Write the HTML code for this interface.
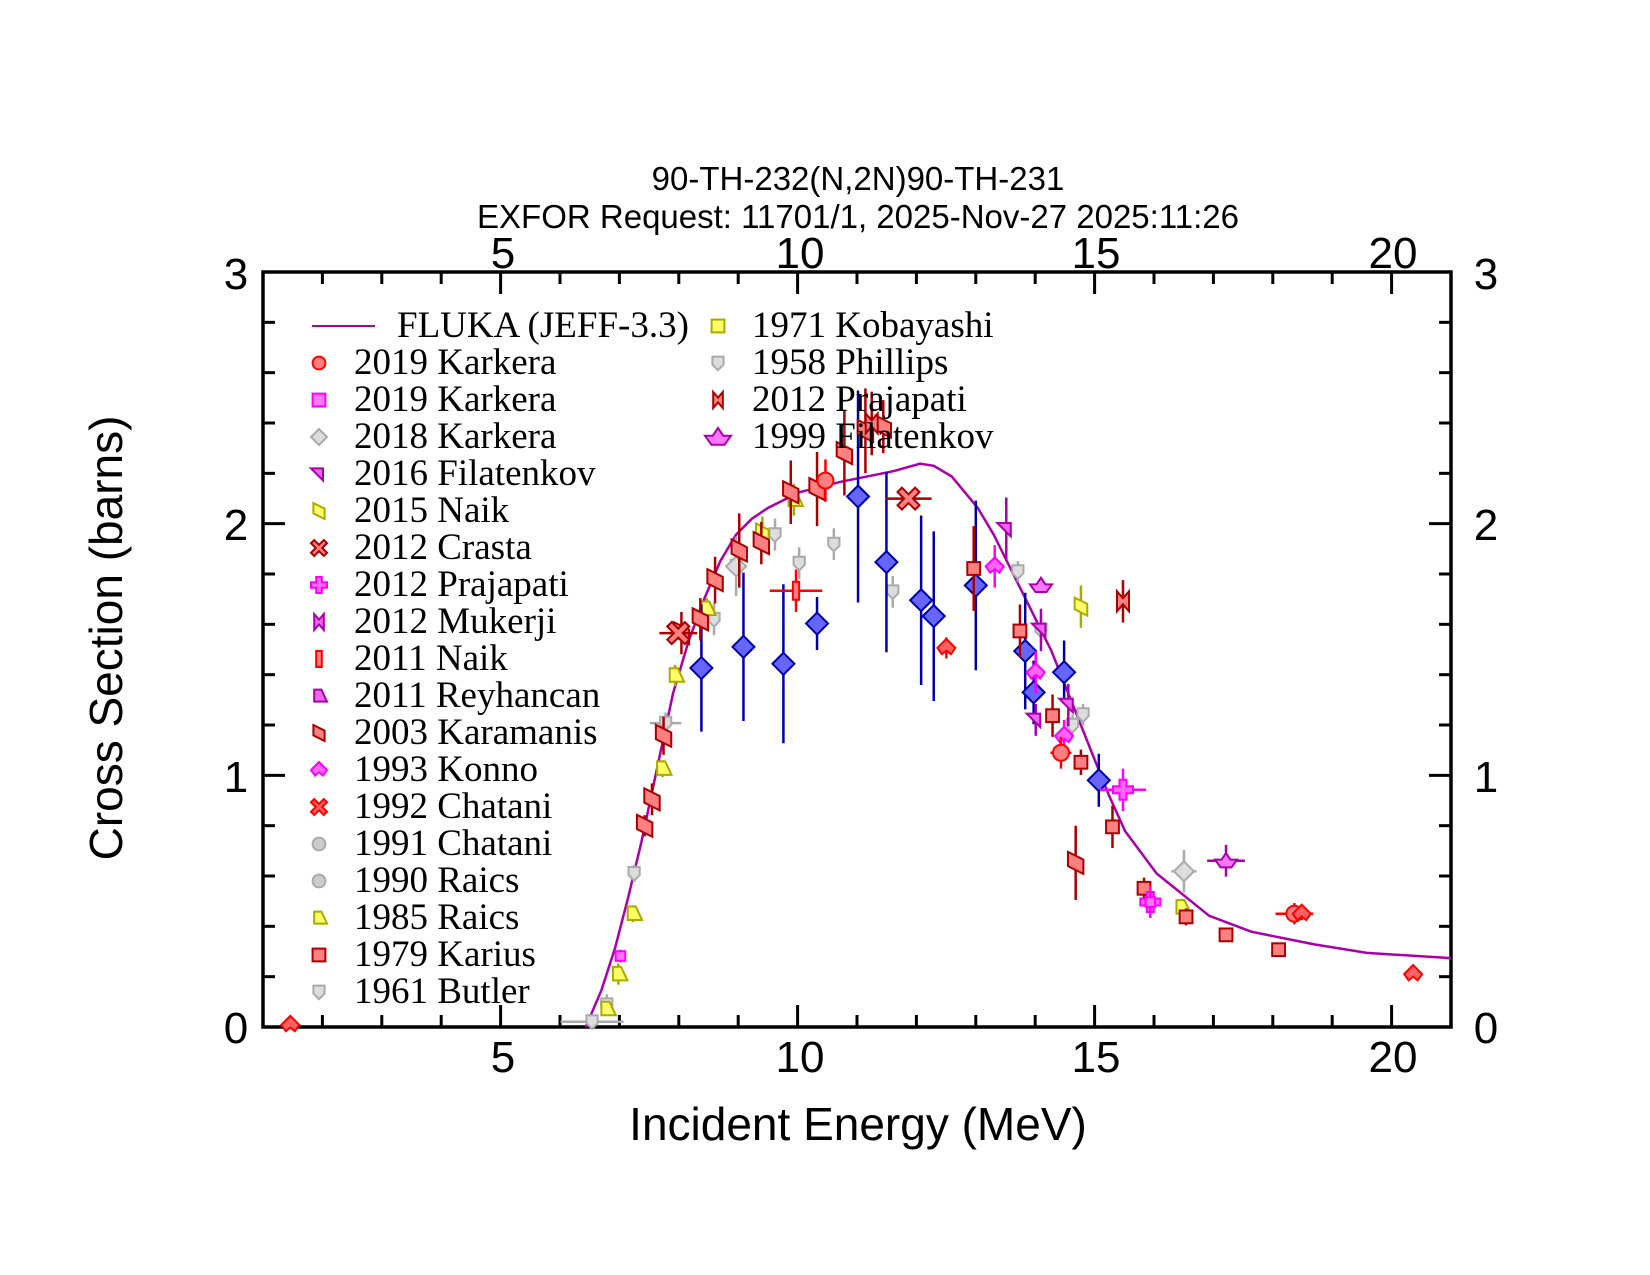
<!DOCTYPE html>
<html><head><meta charset="utf-8">
<style>
html,body{margin:0;padding:0;background:#fff;}
svg{display:block;}
.s{font-family:"Liberation Sans",sans-serif;}
.r{font-family:"Liberation Serif",serif;}
</style></head>
<body>
<svg id="c" width="1650" height="1275" viewBox="0 0 1650 1275" xmlns="http://www.w3.org/2000/svg">
<rect width="1650" height="1275" fill="#fff"/>
<text class="s" x="858" y="190" font-size="33" text-anchor="middle">90-TH-232(N,2N)90-TH-231</text>
<text class="s" x="858" y="228" font-size="33" text-anchor="middle">EXFOR Request: 11701/1, 2025-Nov-27 2025:11:26</text>
<g class="s" font-size="44" text-anchor="middle">
<text x="503" y="268">5</text><text x="800" y="268">10</text><text x="1096" y="268">15</text><text x="1393" y="268">20</text>
<text x="503" y="1072">5</text><text x="800" y="1072">10</text><text x="1096" y="1072">15</text><text x="1393" y="1072">20</text>
<text x="236" y="1043">0</text><text x="236" y="792">1</text><text x="236" y="540">2</text><text x="236" y="289">3</text>
<text x="1486" y="1043">0</text><text x="1486" y="792">1</text><text x="1486" y="540">2</text><text x="1486" y="289">3</text>
</g>
<text class="s" x="858" y="1140" font-size="46" text-anchor="middle">Incident Energy (MeV)</text>
<text class="s" font-size="46" text-anchor="middle" transform="translate(122,638) rotate(-90)">Cross Section (barns)</text>
<g id="ax"></g>
<g id="dat"></g>
<g id="leg" class="r" font-size="37">
<line x1="312" y1="326" x2="375" y2="326" stroke="#aa00aa" stroke-width="2"/>
<text x="397" y="337">FLUKA (JEFF-3.3)</text>
<text x="354" y="374">2019 Karkera</text>
<text x="354" y="411">2019 Karkera</text>
<text x="354" y="448">2018 Karkera</text>
<text x="354" y="485">2016 Filatenkov</text>
<text x="354" y="522">2015 Naik</text>
<text x="354" y="559">2012 Crasta</text>
<text x="354" y="596">2012 Prajapati</text>
<text x="354" y="633">2012 Mukerji</text>
<text x="354" y="670">2011 Naik</text>
<text x="354" y="707">2011 Reyhancan</text>
<text x="354" y="744">2003 Karamanis</text>
<text x="354" y="781">1993 Konno</text>
<text x="354" y="818">1992 Chatani</text>
<text x="354" y="855">1991 Chatani</text>
<text x="354" y="892">1990 Raics</text>
<text x="354" y="929">1985 Raics</text>
<text x="354" y="966">1979 Karius</text>
<text x="354" y="1003">1961 Butler</text>
<text x="752" y="337">1971 Kobayashi</text>
<text x="752" y="374">1958 Phillips</text>
<text x="752" y="411">2012 Prajapati</text>
<text x="752" y="448">1999 Filatenkov</text>
</g>
</svg>
<script>
var NS="http://www.w3.org/2000/svg";
function el(p,t,a){var e=document.createElementNS(NS,t);for(var k in a)e.setAttribute(k,a[k]);p.appendChild(e);return e;}
var ax=document.getElementById('ax'),dat=document.getElementById('dat'),leg=document.getElementById('leg');
var L=263,R=1451,T=272,B=1027;
function X(E){return L+(E-1)*(R-L)/20;}
function Y(s){return B-s*(B-T)/3;}
for(var e=1;e<=21;e++){var x=X(e);var maj=(e%5==0);var l=maj?22:12;
 el(ax,'line',{x1:x,y1:B,x2:x,y2:B-l,stroke:'#000','stroke-width':3});
 el(ax,'line',{x1:x,y1:T,x2:x,y2:T+l,stroke:'#000','stroke-width':3});}
for(var i=0;i<=15;i++){var y=Y(i*0.2);var maj=(i%5==0);var l=maj?22:12;
 el(ax,'line',{x1:L,y1:y,x2:L+l,y2:y,stroke:'#000','stroke-width':3});
 el(ax,'line',{x1:R,y1:y,x2:R-l,y2:y,stroke:'#000','stroke-width':3});}
el(ax,'rect',{x:L,y:T,width:R-L,height:B-T,fill:'none',stroke:'#000','stroke-width':3.5});
function cx(xd){return 263+(xd-250)*1188/1130;}
function cy(yd){return 1027-(975-yd)*755/713;}
var cur=[[557,975],[572,940],[585,900],[598,850],[610,800],[625,730],[640,660],[655,610],[670,570],[685,535],[700,510],[715,495],[730,485],[760,470],[800,460],[850,450],[875,443],[888,445],[905,455],[930,485],[945,510],[960,540],[980,580],[1000,620],[1020,670],[1040,720],[1055,757],[1070,790],[1100,830],[1150,870],[1190,885],[1250,897],[1300,905],[1380,910]];
el(dat,'polyline',{points:cur.map(function(p){return cx(p[0])+','+cy(p[1]);}).join(' '),fill:'none',stroke:'#aa00aa','stroke-width':2.5});
function eb(x,y,ey,ex,c){if(ey)el(dat,'line',{x1:x,y1:y-ey,x2:x,y2:y+ey,stroke:c,'stroke-width':2.5});if(ex)el(dat,'line',{x1:x-ex,y1:y,x2:x+ex,y2:y,stroke:c,'stroke-width':2.5});}
function mk(g,type,x,y,f,s,r){r=r||9;var a={fill:f,stroke:s,'stroke-width':2};
 if(type=='d'){a.points=[x,y-r,x+r,y,x,y+r,x-r,y].join(' ');el(g,'polygon',a);}
 else if(type=='s'){a.x=x-r*0.8;a.y=y-r*0.8;a.width=r*1.6;a.height=r*1.6;el(g,'rect',a);}
 else if(type=='c'){a.cx=x;a.cy=y;a.r=r*0.8;el(g,'circle',a);}
 else if(type=='t'){a.points=[x-r,y-r*0.7,x+r*0.5,y-r*0.7,x+r*0.5,y+r*0.8].join(' ');el(g,'polygon',a);}
 else if(type=='k'){a.points=[x-r*0.7,y-r,x+r*0.7,y-r*0.3,x+r*0.7,y+r,x-r*0.7,y+r*0.3].join(' ');el(g,'polygon',a);}
 else if(type=='sh'){a.points=[x-r*0.7,y-r*0.8,x+r*0.7,y-r*0.8,x+r*0.7,y+r*0.2,x,y+r*0.9,x-r*0.7,y+r*0.2].join(' ');el(g,'polygon',a);}
 else if(type=='x'){a.points=[x-r,y-r*0.6,x-r*0.6,y-r,x,y-r*0.4,x+r*0.6,y-r,x+r,y-r*0.6,x+r*0.4,y,x+r,y+r*0.6,x+r*0.6,y+r,x,y+r*0.4,x-r*0.6,y+r,x-r,y+r*0.6,x-r*0.4,y].join(' ');el(g,'polygon',a);}
 else if(type=='p'){var w=r*0.35;a.points=[x-w,y-r,x+w,y-r,x+w,y-w,x+r,y-w,x+r,y+w,x+w,y+w,x+w,y+r,x-w,y+r,x-w,y+w,x-r,y+w,x-r,y-w,x-w,y-w].join(' ');el(g,'polygon',a);}
 else if(type=='b'){a.points=[x-r*0.6,y-r,x,y-r*0.3,x+r*0.6,y-r,x+r*0.6,y+r,x,y+r*0.3,x-r*0.6,y+r].join(' ');el(g,'polygon',a);}
 else if(type=='tr'){a.points=[x-r*0.6,y+r*0.7,x+r,y+r*0.7,x+r*0.3,y-r*0.8,x-r*0.6,y-r*0.8].join(' ');el(g,'polygon',a);}
 else if(type=='boat'){a.points=[x-r,y-r*0.1,x-r*0.4,y-r*0.1,x,y-r*0.7,x+r*0.4,y-r*0.1,x+r,y-r*0.1,x+r*0.5,y+r*0.6,x-r*0.5,y+r*0.6].join(' ');el(g,'polygon',a);}
 else if(type=='bar'){a.x=x-r*0.35;a.y=y-r;a.width=r*0.7;a.height=r*2;el(g,'rect',a);}
 else if(type=='h'){a.points=[x-r,y,x,y-r,x+r,y,x+r*0.5,y+r*0.7,x,y+r*0.3,x-r*0.5,y+r*0.7].join(' ');el(g,'polygon',a);}
}
function pts(type,f,s,ec,list,r){list.forEach(function(p){var x=cx(p[0]),y=cy(p[1]);eb(x,y,p[2]?p[2]*1.06:0,p[3]?p[3]*1.05:0,ec);mk(dat,type,x,y,f,s,r);});}
pts('sh','#ddd','#aaa','#aaa',[[603,830,8],[577,954,10],[563,970,0,30],[633,688,10,15],[679,590,15],[700,540,28],[737,510,15],[760,537,15],[793,519,15],[849,564,15],[968,545,10],[990,600,12],[1030,680,10],[1020,690,10]],8);
pts('d','#ddd','#aaa','#aaa',[[1126,828,20,12],[700,540,0,0]],10);
pts('tr','#ffff66','#aaaa00','#aaaa00',[[588,925,10],[602,868,8],[630,731,8],[642,643,10],[672,580,10],[755,477,15],[1124,862,8],[577,958,6]],9);
pts('k','#ffff66','#aaaa00','#aaaa00',[[1028,578,20],[725,508,15]],9);
pts('d','#6666ff','#0000aa','#0000aa',[[667,636,60],[707,616,70],[745,632,75],[777,594,25],[816,474,100],[843,536,85],[876,572,80],[888,587,80],[928,558,80],[975,620,55],[983,659,30],[1012,640,30],[1045,742,25]],11);
pts('k','#ff8080','#aa0000','#aa0000',[[613,785,10],[620,760,15],[631,700,18],[648,603,20],[666,590,20],[680,553,22],[703,525,35],[724,518,20],[752,470,30],[777,467,35],[803,433,40],[823,412,40],[840,408,25],[1023,820,35]],11);
pts('s','#ff8080','#aa0000','#aa0000',[[926,542,40],[970,601,25],[1001,681,20],[1028,725,12],[1058,786,20],[1088,844,10],[1128,871,8],[1166,888,5],[1216,902,5]],8);
pts('x','#ff8080','#aa0000','#aa0000',[[864,476,0,22],[645,603,0,18]],11);
pts('p','#ff66ff','#ff00ff','#ff00ff',[[1068,751,20,22],[1094,857,15]],10);
pts('h','#ff66ff','#ff00ff','#ff00ff',[[946,540,20],[985,640,20],[1012,700,15]],9);
pts('t','#ee66ee','#aa00aa','#aa00aa',[[957,505,30],[990,600,20],[1016,671,20],[985,685,15]],9);
pts('boat','#ff77ff','#aa00aa','#aa00aa',[[990,558,0],[1166,818,15,18]],11);
pts('s','#ff77ff','#ff00ff','#ff00ff',[[1094,857,10],[590,908,6]],6);
pts('c','#ff8080','#ff0000','#ff0000',[[785,459,20],[1009,716,15,10],[1231,868,10,18]],10);
pts('h','#ff6060','#ff0000','#ff0000',[[900,617,10],[1238,868,6],[1344,925,0],[276,973,0]],9);
pts('b','#ff8080','#aa0000','#aa0000',[[1068,573,20],[829,405,30]],10);
pts('bar','#ff8080','#ff0000','#ff0000',[[757,563,20,25]],9);
var lm=[['c','#ff8080','#ff0000'],['s','#ff77ff','#ff00ff'],['d','#ddd','#aaa'],['t','#ee66ee','#aa00aa'],['k','#ffff66','#aaaa00'],['x','#ff8080','#aa0000'],['p','#ff66ff','#ff00ff'],['b','#ee66ee','#aa00aa'],['bar','#ff8080','#ff0000'],['tr','#ee66ee','#aa00aa'],['k','#ff8080','#aa0000'],['h','#ff66ff','#ff00ff'],['x','#ff6060','#ff0000'],['c','#ccc','#aaa'],['c','#ccc','#aaa'],['tr','#ffff66','#aaaa00'],['s','#ff8080','#aa0000'],['sh','#ddd','#aaa']];
lm.forEach(function(m,i){mk(leg,m[0],319,363+37*i,m[1],m[2],8);});
var lm2=[['s','#ffff66','#aaaa00'],['sh','#ddd','#aaa'],['b','#ff8080','#aa0000'],['boat','#ff77ff','#aa00aa']];
lm2.forEach(function(m,i){mk(leg,m[0],718,326+37*i,m[1],m[2],m[0]=='boat'?13:8);});
</script>
</body></html>
